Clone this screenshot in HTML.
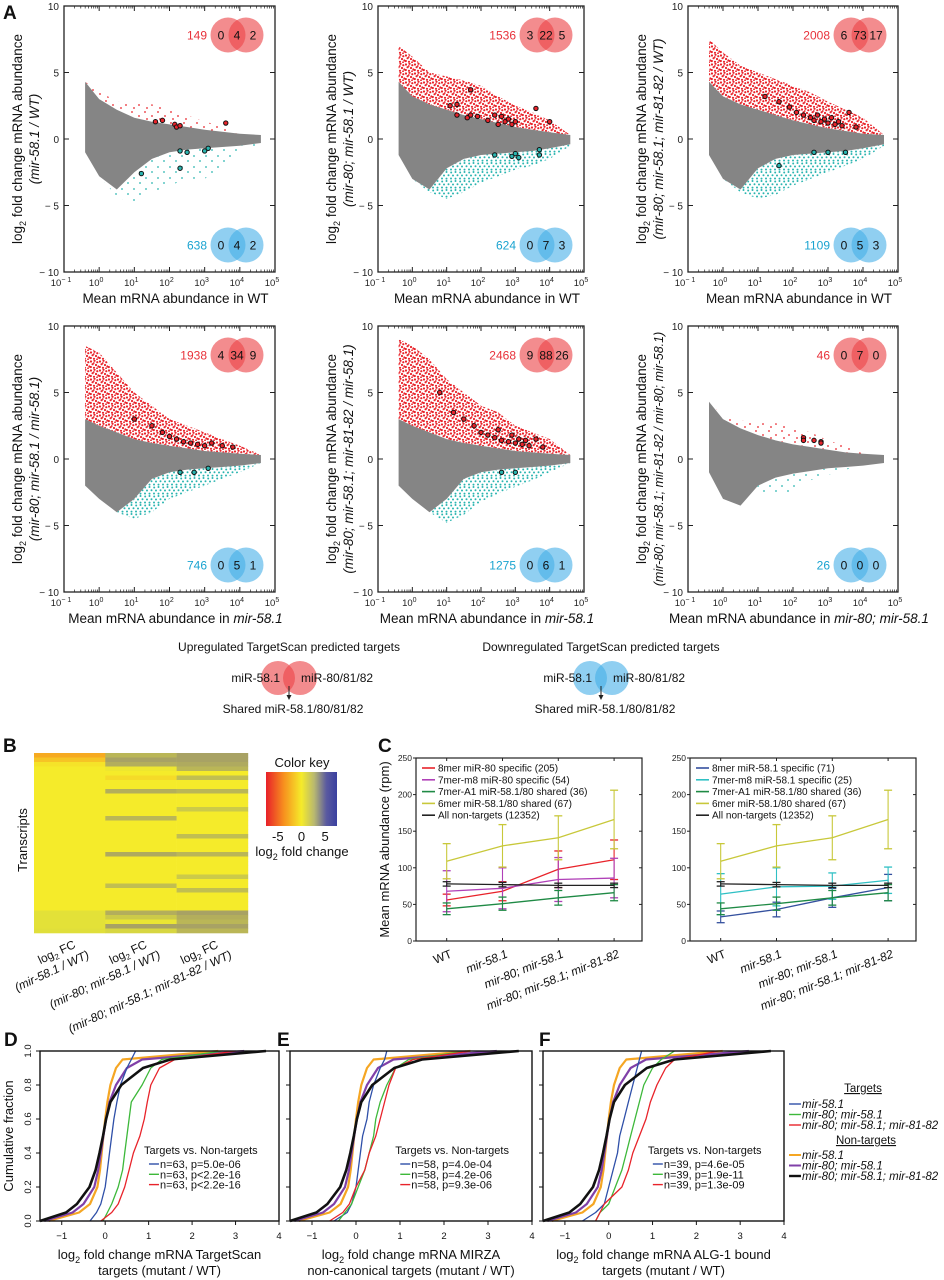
<!DOCTYPE html>
<html><head><meta charset="utf-8"><title>Figure</title>
<style>
html,body{margin:0;padding:0;background:#fff;}
svg{display:block;font-family:"Liberation Sans",Arial,sans-serif;}
</style></head>
<body>
<svg id="fig" width="944" height="1280" viewBox="0 0 944 1280" xmlns="http://www.w3.org/2000/svg">
<defs>
<pattern id="redDense" width="9" height="9" patternUnits="userSpaceOnUse">
<circle cx="1" cy="1.5" r="1.1" fill="#e8232a"/><circle cx="4.5" cy="0.8" r="1.1" fill="#e8232a"/><circle cx="7.3" cy="2.2" r="1.1" fill="#e8232a"/>
<circle cx="2.6" cy="4.2" r="1.1" fill="#e8232a"/><circle cx="6" cy="5" r="1.1" fill="#e8232a"/><circle cx="8.4" cy="6.5" r="1.1" fill="#e8232a"/>
<circle cx="0.8" cy="7" r="1.1" fill="#e8232a"/><circle cx="4" cy="7.8" r="1.1" fill="#e8232a"/><circle cx="3.8" cy="3" r="0.9" fill="#e8232a"/><circle cx="7" cy="8.3" r="0.9" fill="#e8232a"/>
</pattern>
<pattern id="redSparse" width="13" height="11" patternUnits="userSpaceOnUse">
<circle cx="2" cy="2" r="0.9" fill="#e8232a"/><circle cx="9" cy="6" r="0.9" fill="#e8232a"/><circle cx="4" cy="9" r="0.9" fill="#e8232a"/>
</pattern>
<pattern id="cyanDense" width="9" height="9" patternUnits="userSpaceOnUse">
<circle cx="1.2" cy="1.5" r="1" fill="#2ab5b0"/><circle cx="5.5" cy="1" r="1" fill="#2ab5b0"/><circle cx="3" cy="4.5" r="1" fill="#2ab5b0"/>
<circle cx="7.5" cy="4.2" r="1" fill="#2ab5b0"/><circle cx="1" cy="7.5" r="1" fill="#2ab5b0"/><circle cx="5.5" cy="7.6" r="1" fill="#2ab5b0"/>
</pattern>
<pattern id="cyanSparse" width="12" height="11" patternUnits="userSpaceOnUse">
<circle cx="2" cy="2" r="0.9" fill="#2ab5b0"/><circle cx="8" cy="7" r="0.9" fill="#2ab5b0"/>
</pattern>
<linearGradient id="keyGrad" x1="0" x2="1" y1="0" y2="0">
<stop offset="0" stop-color="#e8202a"/><stop offset="0.25" stop-color="#f7901e"/><stop offset="0.5" stop-color="#f5eb2a"/><stop offset="0.68" stop-color="#b8b870"/><stop offset="0.85" stop-color="#5a5aa0"/><stop offset="1" stop-color="#3a40a0"/>
</linearGradient>
</defs>
</svg>
<script>
// ===== Panel A data (log10 mean abundance vs log2 FC envelopes) =====
const maXs = [-0.4, 0, 0.5, 1, 1.5, 2, 2.5, 3, 3.5, 4, 4.6];
const p1GrayHi = [4.3,3,2.2,1.6,1.3,1.1,0.9,0.7,0.55,0.4,0.3];
const p1GrayLo = [-1,-2.8,-3.8,-2.5,-1.5,-1,-0.8,-0.7,-0.6,-0.5,-0.3];
const p1RedHi = [4.3,3.6,2.8,2.7,2.6,2.3,1.8,1.3,1.0,0.4,0.3];
const p1CyanLo = [-1,-2.8,-4.3,-5,-4,-3.5,-3,-3,-2,-1,-0.3];
const p2GrayHi = [4.3,3.2,2.6,2.2,1.8,1.5,1.2,0.9,0.7,0.5,0.3];
const p2GrayLo = [-1.2,-3,-3.8,-2.2,-1.5,-1.2,-1.1,-1,-0.9,-0.7,-0.4];
const p2RedHi = [7,6.2,5,4.7,4.4,4,3.2,2.5,2,1.4,0.3];
const p2CyanLo = [-1.2,-3,-4,-4.5,-4,-3.3,-2.8,-2.3,-2,-1.5,-0.5];
const p3GrayHi = [4.3,3.2,2.6,2.2,1.8,1.4,1.1,0.8,0.6,0.4,0.3];
const p3GrayLo = [-1.2,-3,-3.8,-2.2,-1.5,-1.2,-1.1,-1,-0.9,-0.7,-0.4];
const p3RedHi = [7.5,6.5,5.5,5,4.5,4,3.5,2.8,2.2,1.6,0.3];
const p3CyanLo = [-1.2,-3,-4,-4.5,-4.2,-3.5,-3,-2.5,-2,-1.5,-0.5];
const p4GrayHi = [3,2.5,2,1.5,1.2,1,0.8,0.6,0.5,0.4,0.3];
const p4GrayLo = [-2,-3,-4,-3,-1.5,-1,-0.8,-0.7,-0.6,-0.5,-0.3];
const p4RedHi = [8.5,8,6.5,5,4,3,2.5,2,1.5,1,0.3];
const p4CyanLo = [-2,-3,-4,-4.5,-4,-3,-2.5,-2,-1.5,-1,-0.3];
const p5GrayHi = [3,2.5,2,1.5,1.2,1,0.8,0.6,0.5,0.4,0.3];
const p5GrayLo = [-2,-3,-4,-3,-1.5,-1,-0.8,-0.7,-0.6,-0.5,-0.3];
const p5RedHi = [9,8.5,7.5,6,5,4,3.5,2.5,2,1.5,0.3];
const p5CyanLo = [-2,-3,-4,-4.8,-4.2,-3.2,-2.6,-2.1,-1.6,-1,-0.3];
const p6GrayHi = [4.3,3,2.3,1.8,1.4,1.1,0.9,0.7,0.5,0.4,0.3];
const p6GrayLo = [-1,-3,-3.5,-2,-1.4,-1.1,-0.9,-0.7,-0.6,-0.5,-0.3];
const p6RedHi = [4.3,3.2,2.9,2.7,2.7,2.4,2,1.4,1,0.4,0.3];
const p6CyanLo = [-1,-3,-3.5,-2.6,-2.6,-2.5,-1.6,-1.2,-0.8,-0.5,-0.3];
// circled TargetScan targets [log10 abundance, log2FC]
const p1Targets = [[1.6,1.3],[1.8,1.4],[2.15,1.1],[2.2,0.9],[2.3,1.0],[3.6,1.2],[2.3,-0.9],[2.5,-1.0],[3.0,-0.9],[3.1,-0.7],[2.3,-2.2],[1.2,-2.6]];
const p2Targets = [[1.1,2.5],[1.3,2.6],[1.7,3.7],[1.3,1.8],[1.6,1.6],[1.7,1.8],[1.9,1.7],[2.2,1.4],[2.4,1.8],[2.5,1.1],[2.6,1.7],[2.7,1.3],[2.8,1.5],[2.9,1.1],[3.0,1.3],[3.6,2.3],[4.0,1.3],[2.4,-1.2],[2.9,-1.3],[3.0,-1.1],[3.1,-1.4],[3.7,-0.8],[3.7,-1.2]];
const p3Targets = [[1.2,3.2],[1.6,2.8],[1.9,2.4],[2.1,2.0],[2.3,1.8],[2.5,1.6],[2.6,1.4],[2.8,1.3],[3.0,1.2],[3.2,1.1],[3.4,1.0],[3.6,2.0],[2.7,1.8],[2.9,1.5],[3.1,1.6],[3.3,1.3],[3.8,0.9],[2.6,-1.0],[3.0,-1.0],[3.5,-1.0],[1.6,-2.0]];
const p4Targets = [[1.0,3.0],[1.5,2.5],[1.8,2.0],[2.0,1.7],[2.2,1.5],[2.4,1.3],[2.6,1.2],[2.8,1.1],[3.0,1.0],[3.2,1.2],[3.5,1.0],[3.8,0.9],[2.3,-1.0],[2.7,-1.0],[3.1,-0.7]];
const p5Targets = [[0.8,5.0],[1.2,3.5],[1.5,3.0],[1.8,2.5],[2.0,2.0],[2.2,1.8],[2.4,1.6],[2.6,1.4],[2.8,1.3],[3.0,1.2],[3.2,1.1],[3.4,1.0],[3.6,1.5],[3.8,0.9],[2.5,2.2],[2.9,1.8],[3.1,1.5],[3.3,1.4],[2.6,-1.0],[3.0,-1.0]];
const p6Targets = [[2.3,1.6],[2.3,1.4],[2.6,1.4],[2.8,1.3],[2.8,1.2]];
const vennUp = [[149,0,4,2],[1536,3,22,5],[2008,6,73,17],[1938,4,34,9],[2468,9,88,26],[46,0,7,0]];
const vennDown = [[638,0,4,2],[624,0,7,3],[1109,0,5,3],[746,0,5,1],[1275,0,6,1],[26,0,0,0]];
const xDecades = [-1,0,1,2,3,4,5];
const yTicksA = [-10,-5,0,5,10];

// ===== Panel B heatmap data (log2 FC per row, 40 rows) =====
const hmCol1 = [-2.5,-1.5,-0.3,0,0,0,0,0,0,0,0,0,0,0,0,0,0,0,0,0,0,0,0,0,0,0,0,0,0,0,0,0,0,0,0,0.8,0.8,0.8,0.8,0.9];
const hmCol2 = [2.0,2.5,2.2,0.3,0,-0.6,0,0,2.2,0,0,0,0,0,2.0,0,0,0,0,0,0,0,2.3,0,0,0,0,0,0,1.8,0,0,0,0,0,2.2,1.5,0.5,2.5,1.2];
const hmCol3 = [2.5,2.5,2.3,2.0,0,1.8,0,0,2.0,0,0,0,1.5,0,0,0,0,0,1.8,0,0,0,2.0,0,0,0,0,1.5,0,0,1.8,0,0,0,0,2.5,2.2,2.0,2.5,2.0];
const hmTicks = [-5,0,5];

// ===== Panel C data =====
const cCats = ["WT","mir-58.1","mir-80; mir-58.1","mir-80; mir-58.1; mir-81-82"];
const cTicks = [0,50,100,150,200,250];
const cL_red = [56,68,98,111];      const cL_redErr = [8,13,25,27];
const cL_purple = [68,72,84,86];    const cL_purpleErr = [28,28,30,27];
const cL_green = [44,51,59,66];     const cL_greenErr = [8,9,10,11];
const cL_yellow = [109,130,141,166];const cL_yellowErr = [24,29,30,40];
const cL_black = [78,77,76,76];     const cL_blackErr = [3,3,3,3];
const cR_navy = [33,43,59,73];      const cR_navyErr = [8,10,13,18];
const cR_cyan = [64,74,75,83];      const cR_cyanErr = [28,26,18,18];
const cR_green = [44,51,59,66];     const cR_greenErr = [8,9,10,11];
const cR_yellow = [109,130,141,166];const cR_yellowErr = [24,29,30,40];
const cR_black = [78,77,76,76];     const cR_blackErr = [3,3,3,3];

// ===== Panels D-F CDF data: x value at each cumulative fraction =====
const cdfFrac = [0,0.05,0.1,0.2,0.3,0.4,0.5,0.6,0.7,0.8,0.9,0.95,1];
const cdfXTicks = [-1,0,1,2,3,4];
const cdfYTicks = [0,0.2,0.4,0.6,0.8,1.0];
const ntBlack = [-1.5,-0.9,-0.65,-0.36,-0.22,-0.13,-0.05,0.02,0.12,0.37,0.87,1.5,3.7];
const ntPurple = [-1.4,-0.75,-0.5,-0.25,-0.16,-0.1,-0.04,0.02,0.1,0.25,0.5,0.85,3.2];
const ntOrange = [-1.3,-0.6,-0.35,-0.18,-0.12,-0.08,-0.04,0.0,0.05,0.12,0.25,0.4,2.6];
const dBlue = [-0.35,-0.2,-0.1,0.0,0.05,0.1,0.15,0.2,0.27,0.35,0.5,0.6,0.7];
const dGreen = [-0.05,0.05,0.15,0.3,0.4,0.45,0.5,0.55,0.6,0.85,1.05,1.3,2.7];
const dRed = [-0.1,0.15,0.3,0.45,0.55,0.65,0.8,0.9,0.97,1.05,1.25,1.6,3.0];
const eBlue = [-0.5,-0.2,-0.1,0.0,0.05,0.1,0.15,0.25,0.3,0.4,0.55,0.65,0.7];
const eGreen = [-0.4,-0.25,-0.1,0.05,0.2,0.3,0.4,0.45,0.55,0.7,0.9,1.2,2.5];
const eRed = [-0.6,-0.3,-0.15,0.0,0.2,0.3,0.45,0.55,0.65,0.75,0.9,1.3,2.6];
const fBlue = [-0.6,-0.3,-0.1,0.0,0.1,0.2,0.25,0.35,0.45,0.55,0.65,0.7,0.75];
const fGreen = [-0.3,-0.2,0.0,0.15,0.3,0.4,0.5,0.6,0.7,0.8,1.0,1.2,1.5];
const fRed = [-0.3,-0.2,-0.1,0.3,0.45,0.55,0.7,0.85,0.95,1.1,1.3,1.5,2.5];
const dStats = ["n=63, p=5.0e-06","n=63, p<2.2e-16","n=63, p<2.2e-16"];
const eStats = ["n=58, p=4.0e-04","n=58, p=4.2e-06","n=58, p=9.3e-06"];
const fStats = ["n=39, p=4.6e-05","n=39, p=1.9e-11","n=39, p=1.3e-09"];

const NS = "http://www.w3.org/2000/svg";
const svg = document.getElementById('fig');
function mk(tag, attrs, parent){
  const e = document.createElementNS(NS, tag);
  for (const k in attrs) e.setAttribute(k, attrs[k]);
  (parent || svg).appendChild(e);
  return e;
}
function txt(str, attrs, parent){ const t = mk('text', attrs, parent); t.textContent = str; return t; }

// ---------- Panel A ----------
const aLeft = [64,378,688,64,378,688];
const aRight = [275,584,898,275,584,898];
const aTop = [6,6,6,326,326,326];
const aBot = [272,272,272,592,592,592];
const aGrayHi = [p1GrayHi,p2GrayHi,p3GrayHi,p4GrayHi,p5GrayHi,p6GrayHi];
const aGrayLo = [p1GrayLo,p2GrayLo,p3GrayLo,p4GrayLo,p5GrayLo,p6GrayLo];
const aRedHi = [p1RedHi,p2RedHi,p3RedHi,p4RedHi,p5RedHi,p6RedHi];
const aCyanLo = [p1CyanLo,p2CyanLo,p3CyanLo,p4CyanLo,p5CyanLo,p6CyanLo];
const aTargets = [p1Targets,p2Targets,p3Targets,p4Targets,p5Targets,p6Targets];
const aDense = [false,true,true,true,true,false];
const aYsub = ["(mir-58.1 / WT)","(mir-80; mir-58.1 / WT)","(mir-80; mir-58.1; mir-81-82 / WT)","(mir-80; mir-58.1 / mir-58.1)","(mir-80; mir-58.1; mir-81-82 / mir-58.1)","(mir-80; mir-58.1; mir-81-82 / mir-80; mir-58.1)"];
const aXsub = [null,null,null,"mir-58.1","mir-58.1","mir-80; mir-58.1"];

for (let p = 0; p < 6; p++) {
  const L = aLeft[p], R = aRight[p], T = aTop[p], B = aBot[p];
  const xs = v => L + (v + 1) / 6 * (R - L);
  const ys = v => T + (10 - v) / 20 * (B - T);
  const g = mk('g', {});
  
  
  const poly = (hi, lo) => {
    let pts = maXs.map((x, i) => xs(x).toFixed(1) + ',' + ys(hi[i]).toFixed(1));
    for (let i = maXs.length - 1; i >= 0; i--) pts.push(xs(maXs[i]).toFixed(1) + ',' + ys(lo[i]).toFixed(1));
    return pts.join(' ');
  };
  const red = mk('polygon', {points: poly(aRedHi[p], aGrayHi[p]), fill: aDense[p] ? 'url(#redDense)' : 'url(#redSparse)'}, g);
  
  
  const cy = mk('polygon', {points: poly(aGrayLo[p], aCyanLo[p]), fill: aDense[p] ? 'url(#cyanDense)' : 'url(#cyanSparse)'}, g);
  
  
  const gr = mk('polygon', {points: poly(aGrayHi[p], aGrayLo[p]), fill: '#858585'}, g);
  
  
  aTargets[p].forEach(t => {
    const c = mk('circle', {cx: xs(t[0]), cy: ys(t[1]), r: 2.2, fill: t[1] > 0 ? '#e8232a' : '#2ab5b0', stroke: '#111', 'stroke-width': 1}, g);
    
    
  });
  const frame = mk('rect', {x: L, y: T, width: R - L, height: B - T, fill: 'none', stroke: '#222', 'stroke-width': 1.3}, g);
  
  
  xDecades.forEach(d => {
    mk('line', {x1: xs(d), x2: xs(d), y1: B, y2: B - 5, stroke: '#222'}, g);
    mk('line', {x1: xs(d), x2: xs(d), y1: T, y2: T + 5, stroke: '#222'}, g);
    if (d < 5) for (let m = 2; m < 10; m++) {
      const xv = xs(d + Math.log10(m));
      mk('line', {x1: xv, x2: xv, y1: B, y2: B - 2.5, stroke: '#222', 'stroke-width': 0.7}, g);
      mk('line', {x1: xv, x2: xv, y1: T, y2: T + 2.5, stroke: '#222', 'stroke-width': 0.7}, g);
    }
    const lab = txt('10', {x: xs(d) - 3, y: B + 14, 'font-size': 9.5, 'text-anchor': 'middle', fill: '#222'}, g);
    const sup = mk('tspan', {dy: -4, 'font-size': 7}, lab); sup.textContent = d < 0 ? '− 1' : String(d);
    
    
  });
  yTicksA.forEach(v => {
    mk('line', {x1: L, x2: L + 5, y1: ys(v), y2: ys(v), stroke: '#222'}, g);
    mk('line', {x1: R, x2: R - 5, y1: ys(v), y2: ys(v), stroke: '#222'}, g);
    const lab = txt(v < 0 ? '− ' + (-v) : String(v), {x: L - 5, y: ys(v) + 4, 'font-size': 10, 'text-anchor': 'end', fill: '#222'}, g);
    
    
  });
  const xt = txt('Mean mRNA abundance in ', {x: (L + R) / 2 + 6, y: B + 31, 'font-size': 13.5, 'text-anchor': 'middle', fill: '#111'}, g);
  if (aXsub[p]) { const it = mk('tspan', {'font-style': 'italic'}, xt); it.textContent = aXsub[p]; }
  else { const w = mk('tspan', {}, xt); w.textContent = 'WT'; }
  
  
  const cyM = (T + B) / 2;
  const yt = txt('log', {transform: `translate(${L - 42},${cyM}) rotate(-90)`, 'font-size': 13.5, 'text-anchor': 'middle', fill: '#111'}, g);
  const sb = mk('tspan', {'font-size': 9, dy: 4}, yt); sb.textContent = '2';
  const rest = mk('tspan', {dy: -4}, yt); rest.textContent = ' fold change mRNA abundance';
  
  
  const ys2 = txt(aYsub[p], {transform: `translate(${L - 25},${cyM}) rotate(-90)`, 'font-size': p === 5 ? 12.5 : 13.5, 'font-style': 'italic', 'text-anchor': 'middle', fill: '#111'}, g);
  
  
  [[vennUp[p], T + 29, 'rgba(236,70,72,0.62)', '#e8313a'], [vennDown[p], B - 27, 'rgba(70,175,232,0.6)', '#1aa3d0']].forEach(([vd, vy, fc, tc]) => {
    const vg = mk('g', {}, g);
    
    
    const cxL = R - 47, cxR = R - 29;
    mk('circle', {cx: cxL, cy: vy, r: 17.5, fill: fc}, vg);
    mk('circle', {cx: cxR, cy: vy, r: 17.5, fill: fc}, vg);
    txt(String(vd[0]), {x: cxL - 21, y: vy + 4.5, 'font-size': 12, 'text-anchor': 'end', fill: tc}, vg);
    txt(String(vd[1]), {x: cxL - 7, y: vy + 4.5, 'font-size': 12, 'text-anchor': 'middle', fill: '#111'}, vg);
    txt(String(vd[2]), {x: (cxL + cxR) / 2, y: vy + 4.5, 'font-size': 12, 'text-anchor': 'middle', fill: '#111'}, vg);
    txt(String(vd[3]), {x: cxR + 7, y: vy + 4.5, 'font-size': 12, 'text-anchor': 'middle', fill: '#111'}, vg);
  });
}
txt('A', {x: 3, y: 19, 'font-size': 19, 'font-weight': 'bold', fill: '#111'});

[[289, 'Upregulated TargetScan predicted targets', 'rgba(236,70,72,0.62)'], [601, 'Downregulated TargetScan predicted targets', 'rgba(70,175,232,0.6)']].forEach(([cx, title, fc], i) => {
  const g = mk('g', {});
  
  
  txt(title, {x: cx, y: 651, 'font-size': 12, 'text-anchor': 'middle', fill: '#111'}, g);
  mk('circle', {cx: cx - 11, cy: 678, r: 17, fill: fc}, g);
  mk('circle', {cx: cx + 11, cy: 678, r: 17, fill: fc}, g);
  txt('miR-58.1', {x: cx - 9, y: 682, 'font-size': 12, 'text-anchor': 'end', fill: '#111'}, g);
  txt('miR-80/81/82', {x: cx + 12, y: 682, 'font-size': 12, fill: '#111'}, g);
  mk('line', {x1: cx, x2: cx, y1: 686, y2: 698, stroke: '#222'}, g);
  mk('path', {d: `M${cx - 2.5},695 L${cx + 2.5},695 L${cx},700 Z`, fill: '#222'}, g);
  txt('Shared miR-58.1/80/81/82', {x: cx + 4, y: 713, 'font-size': 12, 'text-anchor': 'middle', fill: '#111'}, g);
});

// ---------- Panel B ----------
function cmap(v){
  const stops = [[-7,[232,32,42]],[-3.5,[247,144,30]],[0,[245,235,42]],[1,[222,222,60]],[2.5,[168,162,100]],[4.5,[90,90,160]],[7,[58,64,160]]];
  if (v <= stops[0][0]) return 'rgb(' + stops[0][1] + ')';
  for (let i = 1; i < stops.length; i++) if (v <= stops[i][0]) {
    const a = stops[i-1], b = stops[i], t = (v - a[0]) / (b[0] - a[0]);
    return 'rgb(' + a[1].map((c, k) => Math.round(c + (b[1][k] - c) * t)).join(',') + ')';
  }
  return 'rgb(' + stops[stops.length-1][1] + ')';
}
txt('B', {x: 3, y: 752, 'font-size': 19, 'font-weight': 'bold', fill: '#111'});
const hmG = mk('g', {});


const hmL = 34, hmT = 753, hmW = 71.3, hmH = 180;
[hmCol1, hmCol2, hmCol3].forEach((col, c) => {
  const rh = hmH / col.length;
  col.forEach((v, r) => {
    const cell = mk('rect', {x: hmL + c * hmW, y: hmT + r * rh, width: hmW + 0.3, height: rh + 0.3, fill: cmap(v)}, hmG);
    
    
  });
});
txt('Transcripts', {transform: 'translate(27,840) rotate(-90)', 'font-size': 13, 'text-anchor': 'middle', fill: '#111'});
const hmLabels = [["(mir-58.1 / WT)"],["(mir-80; mir-58.1 / WT)"],["(mir-80; mir-58.1; mir-81-82 / WT)"]];
hmLabels.forEach((lab, c) => {
  const ax = hmL + (c + 0.5) * hmW + 14;
  const g = mk('g', {transform: `translate(${ax},944) rotate(-25)`});
  
  
  const t = txt('log', {x: -8, y: 0, 'font-size': 12, 'text-anchor': 'end', fill: '#111'}, g);
  const s = mk('tspan', {'font-size': 8, dy: 3}, t); s.textContent = '2';
  const s2 = mk('tspan', {dy: -3}, t); s2.textContent = ' FC';
  txt(lab[0], {x: 0, y: 15, 'font-size': 12, 'font-style': 'italic', 'text-anchor': 'end', fill: '#111'}, g);
});
const keyG = mk('g', {});


txt('Color key', {x: 302, y: 767, 'font-size': 13, 'text-anchor': 'middle', fill: '#111'}, keyG);
mk('rect', {x: 266, y: 772, width: 71, height: 54, fill: 'url(#keyGrad)'}, keyG);
hmTicks.forEach(v => {
  const x = 266 + (v + 7.5) / 15 * 71;
  txt(v < 0 ? '-' + (-v) : String(v), {x: x, y: 841, 'font-size': 13, 'text-anchor': 'middle', fill: '#111'}, keyG);
});
const kt = txt('log', {x: 302, y: 856, 'font-size': 13, 'text-anchor': 'middle', fill: '#111'}, keyG);
const kts = mk('tspan', {'font-size': 9, dy: 4}, kt); kts.textContent = '2';
const kt2 = mk('tspan', {dy: -4}, kt); kt2.textContent = ' fold change';

// ---------- Panel C ----------
txt('C', {x: 378, y: 752, 'font-size': 19, 'font-weight': 'bold', fill: '#111'});
function lineChart(L, R, series, legendNames, withYTitle, name){
  const T = 758, B = 941;
  const g = mk('g', {});
  
  
  const step = (R - L) / 4.05;
  const xs = i => L + step * 0.55 + i * step;
  const ys = v => B - v / 250 * (B - T);
  mk('rect', {x: L, y: T, width: R - L, height: B - T, fill: 'none', stroke: '#222', 'stroke-width': 1.2}, g);
  cTicks.forEach(v => {
    mk('line', {x1: L - 3, x2: L, y1: ys(v), y2: ys(v), stroke: '#222'}, g);
    mk('line', {x1: R - 3, x2: R, y1: ys(v), y2: ys(v), stroke: '#222'}, g);
    const t = txt(String(v), {x: L - 4, y: ys(v) + 3, 'font-size': 8.5, 'text-anchor': 'end', fill: '#222'}, g);
    
    
  });
  cCats.forEach((c, i) => {
    mk('line', {x1: xs(i), x2: xs(i), y1: B, y2: B - 3, stroke: '#222'}, g);
    mk('line', {x1: xs(i), x2: xs(i), y1: T, y2: T + 3, stroke: '#222'}, g);
    const t = txt(c, {transform: `translate(${xs(i) + 6},${B + 16}) rotate(-22)`, 'font-size': 12, 'font-style': c === 'WT' ? 'normal' : 'italic', 'text-anchor': 'end', fill: '#111'}, g);
    
    
  });
  series.forEach(([vals, errs, color]) => {
    const sg = mk('g', {}, g);
    
    
    mk('polyline', {points: vals.map((v, i) => xs(i) + ',' + ys(v)).join(' '), fill: 'none', stroke: color, 'stroke-width': 1.3}, sg);
    vals.forEach((v, i) => {
      const x = xs(i);
      mk('line', {x1: x, x2: x, y1: ys(v - errs[i]), y2: ys(v + errs[i]), stroke: color, 'stroke-width': 1.1}, sg);
      mk('line', {x1: x - 4, x2: x + 4, y1: ys(v - errs[i]), y2: ys(v - errs[i]), stroke: color, 'stroke-width': 1.3}, sg);
      mk('line', {x1: x - 4, x2: x + 4, y1: ys(v + errs[i]), y2: ys(v + errs[i]), stroke: color, 'stroke-width': 1.3}, sg);
    });
  });
  legendNames.forEach((n, i) => {
    const y = 768 + i * 11.8;
    const lg = mk('g', {}, g);
    
    
    mk('line', {x1: L + 6, x2: L + 19, y1: y, y2: y, stroke: series[i][2], 'stroke-width': 1.6}, lg);
    txt(n, {x: L + 22, y: y + 3.5, 'font-size': 10, fill: '#111'}, lg);
  });
  if (withYTitle) {
    const t = txt('Mean mRNA abundance (rpm)', {transform: `translate(${L - 27},${(T + B) / 2}) rotate(-90)`, 'font-size': 13, 'text-anchor': 'middle', fill: '#111'}, g);
    
    
  }
}
lineChart(416, 642, [[cL_red, cL_redErr, '#e8232a'], [cL_purple, cL_purpleErr, '#b040b8'], [cL_green, cL_greenErr, '#1f8a45'], [cL_yellow, cL_yellowErr, '#c8c83a'], [cL_black, cL_blackErr, '#222']],
  ['8mer miR-80 specific (205)', '7mer-m8 miR-80 specific (54)', '7mer-A1 miR-58.1/80 shared (36)', '6mer miR-58.1/80 shared (67)', 'All non-targets (12352)'], true, 'line-chart-mir-80');
lineChart(690, 916, [[cR_navy, cR_navyErr, '#34509e'], [cR_cyan, cR_cyanErr, '#2fc0c4'], [cR_green, cR_greenErr, '#1f8a45'], [cR_yellow, cR_yellowErr, '#c8c83a'], [cR_black, cR_blackErr, '#222']],
  ['8mer miR-58.1 specific (71)', '7mer-m8 miR-58.1 specific (25)', '7mer-A1 miR-58.1/80 shared (36)', '6mer miR-58.1/80 shared (67)', 'All non-targets (12352)'], false, 'line-chart-mir-58');

// ---------- Panels D-F ----------
function cdfPanel(L, R, letter, letterX, targets, stats, xt1, name){
  const T = 1051, B = 1221;
  const xs = v => L + (v + 1.5) / 5.5 * (R - L);
  const ys = f => B - f * (B - T);
  const g = mk('g', {});
  
  
  txt(letter, {x: letterX, y: 1046, 'font-size': 19, 'font-weight': 'bold', fill: '#111'}, g);
  const curves = [[ntOrange, '#f5a623', 2.2], [ntPurple, '#8040a8', 2.2], [targets[0], '#2e4fa8', 1.3], [targets[1], '#3db83a', 1.3], [targets[2], '#e8232a', 1.3], [ntBlack, '#111', 2.6]];
  curves.forEach(([xv, col, w]) => {
    let d = '';
    xv.forEach((x, i) => {
      d += (i === 0 ? 'M' : 'L') + xs(x).toFixed(1) + ',' + ys(cdfFrac[i]).toFixed(1);
    });
    const p = mk('path', {d: d, fill: 'none', stroke: col, 'stroke-width': w, 'stroke-linejoin': 'round'}, g);
    
    
  });
  mk('rect', {x: L, y: T, width: R - L, height: B - T, fill: 'none', stroke: '#111', 'stroke-width': 1.4}, g);
  cdfXTicks.forEach(v => {
    mk('line', {x1: xs(v), x2: xs(v), y1: B, y2: B + 4, stroke: '#111'}, g);
    const t = txt(v < 0 ? '−1' : String(v), {x: xs(v), y: B + 18, 'font-size': 9.5, 'text-anchor': 'middle', fill: '#111'}, g);
    
    
  });
  cdfYTicks.forEach(v => {
    mk('line', {x1: L - 4, x2: L, y1: ys(v), y2: ys(v), stroke: '#111'}, g);
    if (letter === 'D') {
      const t = txt(v.toFixed(1), {transform: `translate(${L - 9},${ys(v)}) rotate(-90)`, 'font-size': 9.5, 'text-anchor': 'middle', fill: '#111'}, g);
      
      
    }
  });
  const lx = L + (R - L) * 0.435;
  txt('Targets vs. Non-targets', {x: lx, y: 1154, 'font-size': 11, fill: '#111'}, g);
  ['#2e4fa8', '#3db83a', '#e8232a'].forEach((c, i) => {
    const y = 1164 + i * 10.3;
    const lg = mk('g', {}, g);
    
    
    mk('line', {x1: lx + 5, x2: lx + 15, y1: y, y2: y, stroke: c, 'stroke-width': 1.4}, lg);
    txt(stats[i], {x: lx + 16, y: y + 4, 'font-size': 11, fill: '#111'}, lg);
  });
  const cx = (L + R) / 2;
  const t1 = txt('log', {x: cx, y: 1259, 'font-size': 13, 'text-anchor': 'middle', fill: '#111'}, g);
  const s = mk('tspan', {'font-size': 9, dy: 4}, t1); s.textContent = '2';
  const s2 = mk('tspan', {dy: -4}, t1); s2.textContent = ' fold change mRNA ' + xt1[0];
  
  
  txt(xt1[1], {x: cx, y: 1275, 'font-size': 13, 'text-anchor': 'middle', fill: '#111'}, g);
}
cdfPanel(40, 279, 'D', 4, [dBlue, dGreen, dRed], dStats, ['TargetScan', 'targets (mutant / WT)'], 'cdf-targetscan');
cdfPanel(290, 532, 'E', 277, [eBlue, eGreen, eRed], eStats, ['MIRZA', 'non-canonical targets (mutant / WT)'], 'cdf-mirza');
cdfPanel(543, 784, 'F', 539, [fBlue, fGreen, fRed], fStats, ['ALG-1 bound', 'targets (mutant / WT)'], 'cdf-alg1');
txt('Cumulative fraction', {transform: 'translate(13,1136) rotate(-90)', 'font-size': 13, 'text-anchor': 'middle', fill: '#111'});

const legG = mk('g', {});


txt('Targets', {x: 863, y: 1092, 'font-size': 11.5, 'text-anchor': 'middle', 'text-decoration': 'underline', fill: '#111'}, legG);
txt('Non-targets', {x: 866, y: 1144, 'font-size': 11.5, 'text-anchor': 'middle', 'text-decoration': 'underline', fill: '#111'}, legG);
const legItems = [['mir-58.1', '#2e4fa8', 1104, 1.4], ['mir-80; mir-58.1', '#3db83a', 1114.5, 1.4], ['mir-80; mir-58.1; mir-81-82', '#e8232a', 1125, 1.4],
  ['mir-58.1', '#f5a623', 1155, 2], ['mir-80; mir-58.1', '#8040a8', 1165.5, 2], ['mir-80; mir-58.1; mir-81-82', '#111', 1176, 2.4]];
legItems.forEach(([n, c, y, w]) => {
  const lg = mk('g', {}, legG);
  
  
  mk('line', {x1: 789, x2: 801, y1: y, y2: y, stroke: c, 'stroke-width': w}, lg);
  txt(n, {x: 802, y: y + 4, 'font-size': 11.5, 'font-style': 'italic', fill: '#111'}, lg);
});
</script>
</body></html>
